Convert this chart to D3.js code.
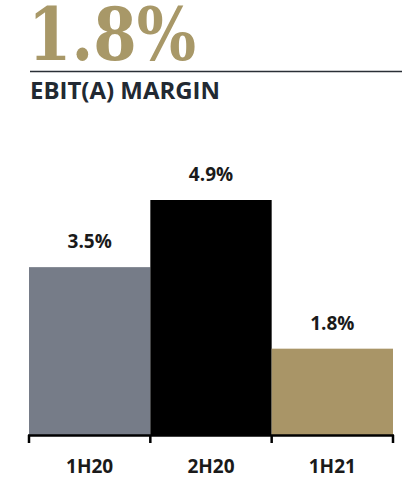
<!DOCTYPE html>
<html><head><meta charset="utf-8">
<script src="https://cdn.jsdelivr.net/npm/d3@7"></script>
<style>body{margin:0;background:#fff}svg{display:block}</style>
</head><body>
<svg id="c" width="408" height="479"></svg>
<script>
const headline = "1.8%";
const subtitle = "EBIT(A) MARGIN";
const categories = ["1H20", "2H20", "1H21"];
const values = [3.5, 4.9, 1.8];
const valueLabels = ["3.5%", "4.9%", "1.8%"];
const colors = ["#767c88", "#000000", "#a99567"];

const svg = d3.select("#c");
const x = d3.scaleBand().domain(categories).range([29, 393]).padding(0);
const y = d3.scaleLinear().domain([0, 4.9]).range([435, 200]);

// headline
svg.append("text").attr("x", 28).attr("y", 60)
  .attr("font-family", "DejaVu Serif").attr("font-weight", "bold")
  .attr("font-size", 72).attr("fill", "#a89868")
  .attr("textLength", 168).attr("lengthAdjust", "spacingAndGlyphs")
  .text(headline);

svg.append("line").attr("x1", 30).attr("x2", 402).attr("y1", 71.5).attr("y2", 71.5)
  .attr("stroke", "#2a2f36").attr("stroke-width", 1.5);

svg.append("text").attr("x", 30).attr("y", 99)
  .attr("font-family", "Open Sans").attr("font-weight", "bold")
  .attr("font-size", 23).attr("fill", "#222932")
  .attr("textLength", 190).attr("lengthAdjust", "spacingAndGlyphs")
  .text(subtitle);

// bars
svg.selectAll("rect.bar").data(categories).join("rect").attr("class", "bar")
  .attr("x", d => x(d)).attr("width", x.bandwidth())
  .attr("y", (d, i) => y(values[i])).attr("height", (d, i) => y(0) - y(values[i]))
  .attr("fill", (d, i) => colors[i]);

// value labels
svg.selectAll("text.val").data(categories).join("text").attr("class", "val")
  .attr("x", d => x(d) + x.bandwidth() / 2)
  .attr("y", (d, i) => y(values[i]) - 19)
  .attr("text-anchor", "middle")
  .attr("font-family", "Open Sans").attr("font-weight", "bold")
  .attr("font-size", 19).attr("fill", "#1a1a1a")
  .text((d, i) => valueLabels[i]);

// axis
const edges = categories.map(d => x(d)).concat([x.range()[1]]);
const ax = svg.append("g");
ax.append("line").attr("x1", x.range()[0] - 1).attr("x2", x.range()[1] + 1)
  .attr("y1", 435.5).attr("y2", 435.5).attr("stroke", "#000").attr("stroke-width", 2.5);
ax.selectAll("line.tick").data(edges).join("line").attr("class", "tick")
  .attr("x1", d => d).attr("x2", d => d).attr("y1", 435).attr("y2", 443)
  .attr("stroke", "#000").attr("stroke-width", 2.5);
ax.selectAll("text.cat").data(categories).join("text").attr("class", "cat")
  .attr("x", d => x(d) + x.bandwidth() / 2).attr("y", 473)
  .attr("text-anchor", "middle")
  .attr("font-family", "Open Sans").attr("font-weight", "bold")
  .attr("font-size", 19).attr("fill", "#1a1a1a")
  .text(d => d);
</script>
</body></html>
